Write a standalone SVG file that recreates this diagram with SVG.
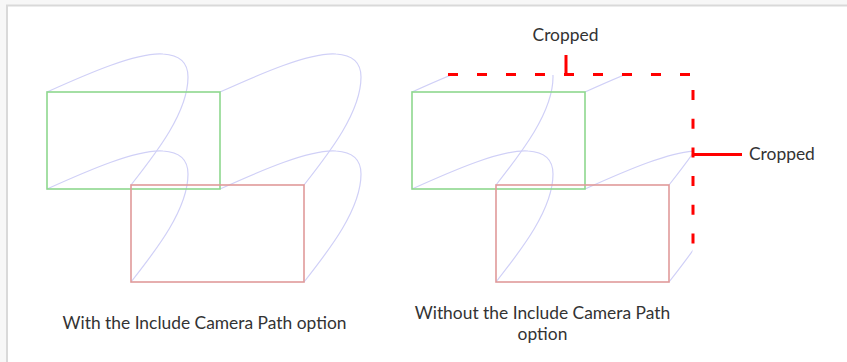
<svg xmlns="http://www.w3.org/2000/svg" width="847" height="362" viewBox="0 0 847 362">
<defs>
<style>
.green{fill:none;stroke:#8ed88e;stroke-width:1.6}
.red{fill:none;stroke:#e09a9a;stroke-width:1.6}
.path{fill:none;stroke:#d0d0f7;stroke-width:1.2}
.crop{fill:none;stroke:#ff0000;stroke-width:3}
.lbl{font-family:Lato,"Liberation Sans",sans-serif;font-size:17.4px;fill:#333333}
</style>
<path id="loop" d="M0 0 C40 -18 90 -40 116 -38 C135 -37 141 -27 141 -15 C141 20 110 60 84 93"/>
<clipPath id="cropclip"><rect x="0" y="75" width="692.5" height="287"/></clipPath>
</defs>
<rect x="0" y="0" width="847" height="362" fill="#f7f7f7"/>
<rect x="7" y="5" width="840" height="357" fill="#ffffff"/>
<path d="M7 362 V5.5 H847" fill="none" stroke="#d9d9d9" stroke-width="2"/>

<g id="left-diagram">
  <g id="left-paths">
    <use href="#loop" class="path" x="47" y="92"/>
    <use href="#loop" class="path" x="220" y="92"/>
    <use href="#loop" class="path" x="47" y="189"/>
    <use href="#loop" class="path" x="220" y="189"/>
  </g>
  <rect id="left-green" class="green" x="47" y="92" width="173" height="97"/>
  <rect id="left-red" class="red" x="131" y="185" width="173" height="97"/>
  <text id="left-caption" class="lbl" x="204.5" y="329" text-anchor="middle">With the Include Camera Path option</text>
</g>

<g id="right-diagram">
  <g id="right-paths" clip-path="url(#cropclip)">
    <use href="#loop" class="path" x="412" y="92"/>
    <use href="#loop" class="path" x="585" y="92"/>
    <use href="#loop" class="path" x="412" y="189"/>
    <use href="#loop" class="path" x="585" y="189"/>
  </g>
  <rect id="right-green" class="green" x="412" y="92" width="173" height="97"/>
  <rect id="right-red" class="red" x="496" y="185" width="173" height="97"/>
  <text id="right-caption" class="lbl" text-anchor="middle"><tspan x="542.5" y="319">Without the Include Camera Path</tspan><tspan x="542.5" y="340">option</tspan></text>
</g>

<g id="crop-lines">
  <line class="crop" x1="448" y1="74.5" x2="690" y2="74.5" stroke-dasharray="10 19"/>
  <line class="crop" x1="693" y1="90" x2="693" y2="244" stroke-dasharray="10 18.7" stroke-width="2.6"/>
  <line class="crop" x1="566" y1="55" x2="566" y2="76" stroke-width="3.5"/>
  <line class="crop" x1="693" y1="154.5" x2="742" y2="154.5" stroke-width="3.5"/>
</g>

<g id="crop-top-label">
  <text class="lbl" x="565.5" y="41" text-anchor="middle">Cropped</text>
</g>
<g id="crop-right-label">
  <text class="lbl" x="749" y="160">Cropped</text>
</g>
</svg>
